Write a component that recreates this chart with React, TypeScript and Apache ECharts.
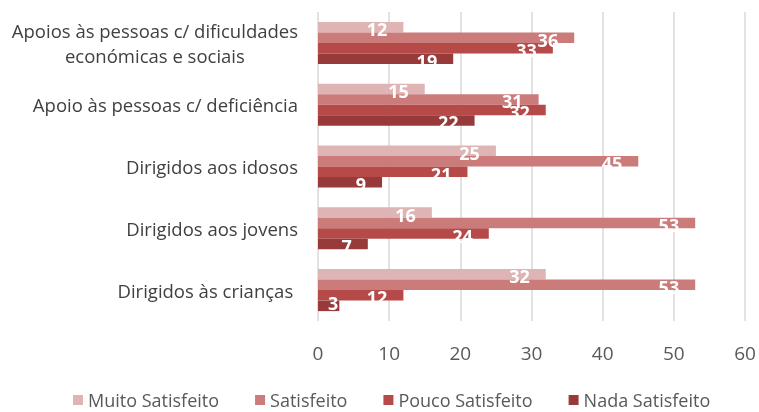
import React, { useEffect, useRef } from "react";
import * as echarts from "echarts";

const categories = [
  "Dirigidos às crianças ",
  "Dirigidos aos jovens",
  "Dirigidos aos idosos",
  "Apoio às pessoas c/ deficiência",
  "Apoios às pessoas c/ dificuldades\neconómicas e sociais",
];
const seriesNames = ["Muito Satisfeito", "Satisfeito", "Pouco Satisfeito", "Nada Satisfeito"];
const muitoSatisfeito = [32, 16, 25, 15, 12];
const satisfeito = [53, 53, 45, 31, 36];
const poucoSatisfeito = [12, 24, 21, 32, 33];
const nadaSatisfeito = [3, 7, 9, 22, 19];
const colors = ["#DFB4B4", "#CC7B7B", "#B64A49", "#983A3A"];
const xTicks = { min: 0, max: 60, interval: 10 };

export default function App() {
  const ref = useRef<HTMLDivElement>(null);
  useEffect(() => {
    if (!ref.current) return;
    const chart = echarts.init(ref.current, null, { renderer: "svg" });
    const values = [muitoSatisfeito, satisfeito, poucoSatisfeito, nadaSatisfeito];
    const font = "'Open Sans', sans-serif";
    chart.setOption({
      animation: false,
      grid: { left: 318, right: 14, top: 12, bottom: 91 },
      legend: {
        top: 386,
        left: 68,
        itemWidth: 10,
        itemHeight: 10,
        itemGap: 36,
        icon: "rect",
        data: seriesNames,
        textStyle: { color: "#595959", fontSize: 18, fontFamily: font },
      },
      xAxis: {
        type: "value",
        min: xTicks.min,
        max: xTicks.max,
        interval: xTicks.interval,
        axisLine: { show: false },
        axisTick: { show: false },
        splitLine: { lineStyle: { color: "#D9D9D9", width: 1.5 } },
        axisLabel: { color: "#595959", fontSize: 19, fontFamily: font, margin: 22 },
      },
      yAxis: {
        type: "category",
        data: categories,
        axisLine: { show: false },
        axisTick: { show: false },
        axisLabel: {
          margin: 20,
          color: "#404040",
          fontSize: 18.5,
          fontFamily: font,
          formatter: (v: string) =>
            v
              .split("\n")
              .map((l) => "{a|" + l + "}")
              .join("\n"),
          rich: { a: { align: "center", color: "#404040", fontSize: 18.5, fontFamily: font, lineHeight: 25 } },
        },
      },
      series: seriesNames.map((name, i) => ({
        name,
        type: "bar",
        data: values[i].map((v) => ({
          value: v,
          label: v < 5 ? { distance: 1, offset: [0, -3] } : undefined,
        })),
        barGap: "0%",
        barCategoryGap: "32%",
        itemStyle: { color: colors[i] },
        label: {
          show: true,
          position: "insideRight",
          distance: 16,
          offset: [0, 2],
          color: "#FFFFFF",
          fontWeight: "bold",
          fontSize: 18,
          fontFamily: font,
        },
      })),
    });
    return () => chart.dispose();
  }, []);
  return (
    <div
      ref={ref}
      style={{ position: "fixed", left: 0, top: 0, width: 759, height: 412 }}
    />
  );
}
